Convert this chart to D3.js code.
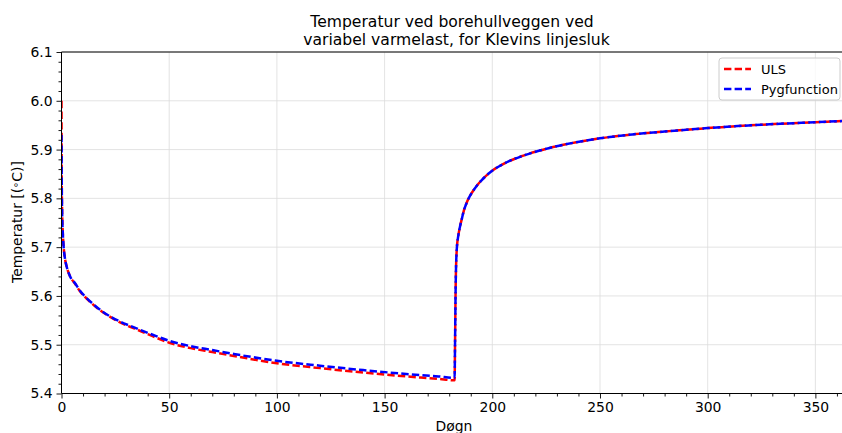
<!DOCTYPE html>
<html>
<head>
<meta charset="utf-8">
<script src="https://cdn.jsdelivr.net/npm/d3@7"></script>
<style>
  body { margin: 0; background: #fff; }
  svg { display: block; font-family: "DejaVu Sans", sans-serif; }
</style>
</head>
<body>
<svg id="chart" width="842" height="433"></svg>
<script>
// days (døgn)
const days = [0, 0.05, 0.1, 0.3, 0.6, 1, 1.5, 2.4, 4, 6.3, 8.5, 10.9, 14, 18.7, 23, 27.9, 34, 42, 50, 60, 70, 80,
  100, 120, 140, 160, 175, 182.5, 182.7, 183, 183.5, 184.2, 185, 185.8, 186.8, 188.1, 189.5, 191.2, 193, 195,
  198.9, 206.7, 214, 222, 231, 239, 250, 265, 280, 300, 325, 350, 365];

const uls = [6.0, 5.90, 5.84, 5.77, 5.73, 5.70, 5.68, 5.66, 5.64, 5.625, 5.61, 5.598, 5.585, 5.568, 5.556, 5.544,
  5.533, 5.518, 5.504, 5.493, 5.485, 5.477, 5.462, 5.452, 5.443, 5.435, 5.430, 5.427, 5.50, 5.62, 5.695, 5.723,
  5.742, 5.757, 5.775, 5.791, 5.804, 5.816, 5.827, 5.837, 5.853, 5.874, 5.887, 5.898, 5.908, 5.915, 5.923, 5.931,
  5.937, 5.944, 5.951, 5.956, 5.959];

const pyg = [5.93, 5.90, 5.84, 5.77, 5.73, 5.70, 5.68, 5.66, 5.64, 5.626, 5.611, 5.599, 5.586, 5.569, 5.557, 5.546,
  5.535, 5.521, 5.508, 5.497, 5.489, 5.481, 5.467, 5.457, 5.448, 5.440, 5.435, 5.432, 5.50, 5.62, 5.695, 5.723,
  5.742, 5.757, 5.775, 5.791, 5.804, 5.816, 5.827, 5.837, 5.853, 5.874, 5.887, 5.898, 5.908, 5.915, 5.923, 5.931,
  5.937, 5.944, 5.951, 5.956, 5.959];

const xTicks = [0, 50, 100, 150, 200, 250, 300, 350];
const yTicks = [5.4, 5.5, 5.6, 5.7, 5.8, 5.9, 6.0, 6.1];

const series = [
  { label: 'ULS', values: uls, color: '#ff0000' },
  { label: 'Pygfunction', values: pyg, color: '#0000ff' }
];

const svg = d3.select('#chart');
const pLeft = 61.5, pTop = 52, pBottom = 393.5, pRight = 847.7;

const x = d3.scaleLinear().domain([0, 365]).range([pLeft, pRight]);
const y = d3.scaleLinear().domain([5.4, 6.1]).range([pBottom, pTop]);

svg.append('clipPath').attr('id', 'clip')
  .append('rect').attr('x', pLeft).attr('y', pTop).attr('width', pRight - pLeft).attr('height', pBottom - pTop);

// grid
const grid = svg.append('g').attr('stroke', '#dcdcdc').attr('stroke-width', 0.8);
grid.selectAll('line.gx').data(xTicks).enter().append('line')
  .attr('x1', d => x(d)).attr('x2', d => x(d)).attr('y1', pTop).attr('y2', pBottom);
grid.selectAll('line.gy').data(yTicks).enter().append('line')
  .attr('x1', pLeft).attr('x2', pRight).attr('y1', d => y(d)).attr('y2', d => y(d));

// lines
const line = d3.line()
  .x((d, i) => x(days[i]))
  .y(d => y(d))
  .curve(d3.curveMonotoneX);

const plot = svg.append('g').attr('clip-path', 'url(#clip)');
series.forEach(s => {
  plot.append('path')
    .datum(s.values)
    .attr('fill', 'none')
    .attr('stroke', s.color)
    .attr('stroke-width', 2.5)
    .attr('stroke-dasharray', '7.4,3.2')
    .attr('d', line);
});

// axes
const xAxis = svg.append('g').attr('transform', `translate(0,${pBottom})`)
  .call(d3.axisBottom(x).tickValues(xTicks).tickFormat(d3.format('d')).tickSize(5).tickPadding(4));
const xMinor = svg.append('g').attr('transform', `translate(0,${pBottom})`)
  .call(d3.axisBottom(x).tickValues(d3.range(0, 366, 10).filter(d => d % 50 !== 0)).tickSize(3).tickFormat(''));

const yAxis = svg.append('g').attr('transform', `translate(${pLeft},0)`)
  .call(d3.axisLeft(y).tickValues(yTicks).tickFormat(d3.format('.1f')).tickSize(5).tickPadding(4));
const yMinor = svg.append('g').attr('transform', `translate(${pLeft},0)`)
  .call(d3.axisLeft(y).tickValues(d3.range(0, 35).map(i => 5.4 + i * 0.02).filter((d, i) => i % 5 !== 0)).tickSize(3).tickFormat(''));

[xAxis, xMinor, yAxis, yMinor].forEach(g => {
  g.select('.domain').remove();
  g.selectAll('.tick line').attr('stroke', '#000').attr('stroke-width', 0.9);
  g.selectAll('.tick text').attr('fill', '#000').style('font-size', '13.9px').style('font-family', '"DejaVu Sans"');
});

// spines
const spines = svg.append('g').attr('stroke', '#000').attr('stroke-width', 1);
spines.append('line').attr('x1', pLeft).attr('x2', pLeft).attr('y1', pTop).attr('y2', pBottom);
spines.append('line').attr('x1', pLeft).attr('x2', pRight).attr('y1', pBottom).attr('y2', pBottom);
spines.append('line').attr('x1', pLeft).attr('x2', pRight).attr('y1', pTop).attr('y2', pTop);

// title
svg.append('text').attr('x', 452).attr('y', 27).attr('text-anchor', 'middle')
  .style('font-size', '15.6px').text('Temperatur ved borehullveggen ved');
svg.append('text').attr('x', 456.5).attr('y', 45).attr('text-anchor', 'middle')
  .style('font-size', '15.6px').text('variabel varmelast, for Klevins linjesluk');

// axis labels
svg.append('text').attr('x', 454).attr('y', 431).attr('text-anchor', 'middle')
  .style('font-size', '13.9px').text('Døgn');
const yl = svg.append('text').attr('transform', 'translate(22,222) rotate(-90)').attr('text-anchor', 'middle')
  .style('font-size', '13.9px');
yl.append('tspan').text('Temperatur [(');
yl.append('tspan').attr('baseline-shift', '35%').style('font-size', '10px').text('∘');
yl.append('tspan').text('C)]');

// legend
const lg = svg.append('g');
lg.append('rect').attr('x', 719).attr('y', 58).attr('width', 121).attr('height', 42).attr('rx', 3)
  .attr('fill', '#fff').attr('fill-opacity', 0.8).attr('stroke', '#cccccc').attr('stroke-width', 1);
series.forEach((s, i) => {
  const cy = 69 + i * 20;
  lg.append('line').attr('x1', 724).attr('x2', 751).attr('y1', cy).attr('y2', cy)
    .attr('stroke', s.color).attr('stroke-width', 2.5).attr('stroke-dasharray', '7.4,3.2');
  lg.append('text').attr('x', 761).attr('y', cy + 4.5).style('font-size', '13px').text(s.label);
});
</script>
</body>
</html>
